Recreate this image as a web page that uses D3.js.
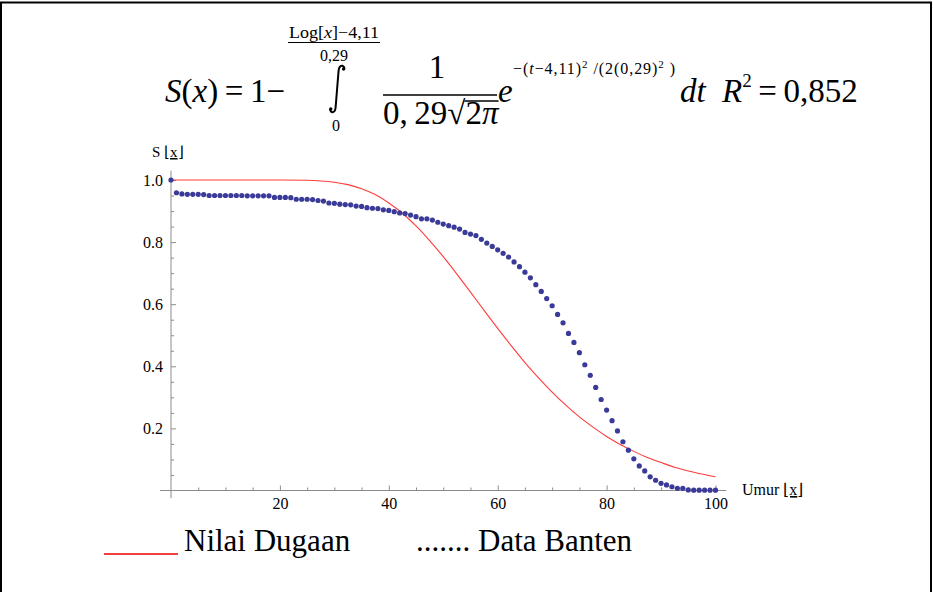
<!DOCTYPE html>
<html>
<head>
<meta charset="utf-8">
<script src="https://cdn.jsdelivr.net/npm/d3@7"></script>
<style>
  body { margin: 0; background: #fff; }
  svg { display: block; }
  text { font-family: "Liberation Serif", "Times New Roman", serif; fill: #000; }
</style>
</head>
<body>
<script>
const width = 933, height = 592;

// Data Banten: survival proportion by age
const dataAge = d3.range(0, 101);
const dataVal = [
  1.000, 0.959, 0.955, 0.954, 0.954, 0.954, 0.953, 0.950, 0.950, 0.950,
  0.950, 0.950, 0.950, 0.950, 0.949, 0.949, 0.949, 0.949, 0.949, 0.944,
  0.944, 0.944, 0.943, 0.938, 0.938, 0.938, 0.937, 0.934, 0.932, 0.926,
  0.925, 0.922, 0.921, 0.920, 0.916, 0.915, 0.911, 0.909, 0.908, 0.904,
  0.902, 0.898, 0.894, 0.892, 0.887, 0.882, 0.875, 0.875, 0.871, 0.864,
  0.858, 0.853, 0.848, 0.842, 0.831, 0.826, 0.821, 0.809, 0.797, 0.786,
  0.775, 0.764, 0.752, 0.736, 0.721, 0.703, 0.685, 0.663, 0.641, 0.618,
  0.595, 0.567, 0.540, 0.506, 0.477, 0.444, 0.405, 0.371, 0.332, 0.293,
  0.259, 0.225, 0.192, 0.157, 0.130, 0.102, 0.079, 0.063, 0.044, 0.033,
  0.023, 0.018, 0.012, 0.007, 0.007, 0.002, 0.001, 0.001, 0.001, 0.001,
  0.001
];

// Nilai Dugaan: fitted curve
const fitAge = [0, 5, 10, 15, 20, 25, 27.5, 30, 32.5, 35, 37.5, 40, 42.5, 45, 47.5, 50,
  52.5, 55, 57.5, 60, 62.5, 65, 67.5, 70, 72.5, 75, 77.5, 80, 82.5, 85, 87.5, 90,
  92.5, 95, 97.5, 100];
const fitVal = [1, 1, 1, 1, 1, 0.999, 0.997, 0.993, 0.985, 0.972, 0.953, 0.926, 0.893, 0.852,
  0.805, 0.753, 0.697, 0.639, 0.580, 0.522, 0.466, 0.412, 0.363, 0.317, 0.275, 0.237,
  0.204, 0.174, 0.148, 0.126, 0.106, 0.090, 0.075, 0.063, 0.053, 0.044];

const xMajor = [20, 40, 60, 80, 100];
const xMinor = [5, 10, 15, 25, 30, 35, 45, 50, 55, 65, 70, 75, 85, 90, 95];
const yMajor = [0.2, 0.4, 0.6, 0.8, 1.0];
const yMinor = [0.05, 0.1, 0.15, 0.25, 0.3, 0.35, 0.45, 0.5, 0.55, 0.65, 0.7, 0.75, 0.85, 0.9, 0.95];

const x = d3.scaleLinear().domain([0, 100]).range([171, 715.5]);
const y = d3.scaleLinear().domain([0, 1]).range([490.5, 180]);

const svg = d3.select("body").append("svg")
  .attr("width", width)
  .attr("height", height);

// frame
svg.append("rect")
  .attr("x", 1).attr("y", 2.5)
  .attr("width", 930).attr("height", 620)
  .attr("fill", "none")
  .attr("stroke", "#000")
  .attr("stroke-width", 2);

// ---------- formula ----------
const f = svg.append("g").attr("class", "formula");
const big = 33, small = 16;

const sx = f.append("text").attr("x", 165).attr("y", 102).style("font-size", big + "px");
sx.append("tspan").style("font-style", "italic").text("S");
sx.append("tspan").text("(");
sx.append("tspan").style("font-style", "italic").text("x");
sx.append("tspan").text(")\u2009=\u20091\u2212");

// upper limit of the integral
const up = f.append("text").attr("x", 334).attr("y", 38)
  .attr("text-anchor", "middle").style("font-size", small + "px")
  .attr("textLength", 90).attr("lengthAdjust", "spacingAndGlyphs");
up.append("tspan").text("Log[");
up.append("tspan").style("font-style", "italic").text("x");
up.append("tspan").text("]\u22124,11");
f.append("line").attr("x1", 288).attr("x2", 380).attr("y1", 42.5).attr("y2", 42.5)
  .attr("stroke", "#000").attr("stroke-width", 1);
f.append("text").attr("x", 334).attr("y", 61).attr("text-anchor", "middle")
  .style("font-size", small + "px").text("0,29");

// integral sign
f.append("path")
  .attr("d", "M344.5,69 C344,64.5 339.5,64.5 338.6,70.5 L335.6,107.5 C335,113.5 330.5,113.5 330,109")
  .attr("fill", "none").attr("stroke", "#000").attr("stroke-width", 2);
f.append("circle").attr("cx", 343.6).attr("cy", 69).attr("r", 1.7).attr("fill", "#000");
f.append("circle").attr("cx", 330.8).attr("cy", 109).attr("r", 1.7).attr("fill", "#000");
f.append("text").attr("x", 336).attr("y", 131).attr("text-anchor", "middle")
  .style("font-size", small + "px").text("0");

// 1 / (0,29 sqrt(2 pi))
f.append("text").attr("x", 437).attr("y", 78).attr("text-anchor", "middle")
  .style("font-size", big + "px").text("1");
f.append("line").attr("x1", 383).attr("x2", 497).attr("y1", 95).attr("y2", 95)
  .attr("stroke", "#000").attr("stroke-width", 1.3);
const d1 = f.append("text").attr("x", 383).attr("y", 124).style("font-size", big + "px").text("0,\u200929");
const w1 = d1.node().getComputedTextLength();
const rt = f.append("text").attr("x", 383 + w1).attr("y", 124).style("font-size", big + "px").text("\u221A");
const w2 = rt.node().getComputedTextLength();
const d2 = f.append("text").attr("x", 383 + w1 + w2).attr("y", 124).style("font-size", big + "px");
d2.append("tspan").text("2");
d2.append("tspan").style("font-style", "italic").text("\u03C0");
const w3 = d2.node().getComputedTextLength();
f.append("line").attr("x1", 383 + w1 + w2 - 1).attr("x2", 383 + w1 + w2 + w3)
  .attr("y1", 101).attr("y2", 101).attr("stroke", "#000").attr("stroke-width", 1.3);

// e^(...)
f.append("text").attr("x", 498).attr("y", 102).style("font-size", big + "px")
  .style("font-style", "italic").text("e");
const ex = f.append("text").attr("x", 513).attr("y", 74).style("font-size", small + "px")
  .attr("textLength", 162).attr("lengthAdjust", "spacing");
ex.append("tspan").text("\u2212(");
ex.append("tspan").style("font-style", "italic").text("t");
ex.append("tspan").text("\u22124,11)");
ex.append("tspan").attr("dy", -6).style("font-size", "11px").text("2");
ex.append("tspan").attr("dy", 6).text(" /(2(0,29)");
ex.append("tspan").attr("dy", -6).style("font-size", "11px").text("2");
ex.append("tspan").attr("dy", 6).text(" )");

f.append("text").attr("x", 680).attr("y", 102).style("font-size", big + "px")
  .style("font-style", "italic").text("dt");

const r2 = f.append("text").attr("x", 722).attr("y", 102).style("font-size", big + "px");
r2.append("tspan").style("font-style", "italic").text("R");
r2.append("tspan").attr("dy", -15).style("font-size", "19px").text("2");
r2.append("tspan").attr("dy", 15).text("\u2009=\u20090,852");

// ---------- axes ----------
const axisColor = "#8c8c8c";
const tickFont = "16px";

const gx = svg.append("g").attr("transform", `translate(0,${y(0)})`);
gx.call(d3.axisBottom(x).tickValues(xMinor).tickSize(-3).tickFormat(""));
gx.selectAll(".tick line").attr("stroke", axisColor);
const gxM = svg.append("g").attr("transform", `translate(0,${y(0)})`);
gxM.call(d3.axisBottom(x).tickValues(xMajor).tickSize(-5).tickPadding(7).tickFormat(d3.format("d")));
[gx, gxM].forEach(g => g.select(".domain").remove());
gxM.selectAll(".tick line").attr("stroke", axisColor);
gxM.selectAll(".tick text").style("font-family", "Liberation Serif, serif").style("font-size", tickFont).attr("fill", "#000");
svg.append("line")
  .attr("x1", x(-2)).attr("x2", x(102))
  .attr("y1", y(0)).attr("y2", y(0))
  .attr("stroke", axisColor).attr("stroke-width", 1);

const gy = svg.append("g").attr("transform", `translate(${x(0)},0)`);
gy.call(d3.axisLeft(y).tickValues(yMinor).tickSize(-3).tickFormat(""));
gy.selectAll(".tick line").attr("stroke", axisColor);
const gyM = svg.append("g").attr("transform", `translate(${x(0)},0)`);
gyM.call(d3.axisLeft(y).tickValues(yMajor).tickSize(-5).tickPadding(8).tickFormat(d3.format(".1f")));
[gy, gyM].forEach(g => g.select(".domain").remove());
gyM.selectAll(".tick line").attr("stroke", axisColor);
gyM.selectAll(".tick text").style("font-family", "Liberation Serif, serif").style("font-size", tickFont).attr("fill", "#000");
svg.append("line")
  .attr("x1", x(0)).attr("x2", x(0))
  .attr("y1", y(1.03)).attr("y2", y(-0.025))
  .attr("stroke", axisColor).attr("stroke-width", 1);

// axis labels
const yl = svg.append("text").attr("x", 152).attr("y", 157).style("font-size", "15px");
yl.append("tspan").text("S ");
yl.append("tspan").style("text-decoration", "underline").text("\u230Ax");
yl.append("tspan").text("\u230B");
const xl = svg.append("text").attr("x", 742).attr("y", 495).style("font-size", "16px");
xl.append("tspan").text("Umur ");
xl.append("tspan").style("text-decoration", "underline").text("\u230Ax");
xl.append("tspan").text("\u230B");

// ---------- series ----------
const fit = fitAge.map((a, i) => [a, fitVal[i]]);
svg.append("path")
  .datum(fit)
  .attr("fill", "none")
  .attr("stroke", "#ff3b3b")
  .attr("stroke-width", 1.1)
  .attr("d", d3.line().x(d => x(d[0])).y(d => y(d[1])).curve(d3.curveMonotoneX));

svg.append("g").selectAll("circle")
  .data(dataAge.map((a, i) => [a, dataVal[i]]))
  .enter()
  .append("circle")
  .attr("cx", d => x(d[0]))
  .attr("cy", d => y(d[1]))
  .attr("r", 2.6)
  .attr("fill", "#3a3a98");

// ---------- legend ----------
svg.append("line")
  .attr("x1", 104).attr("x2", 178).attr("y1", 554).attr("y2", 554)
  .attr("stroke", "#e00").attr("stroke-width", 1.4);
svg.append("text").attr("x", 184).attr("y", 551).style("font-size", "31px").text("Nilai Dugaan");
svg.append("text").attr("x", 416).attr("y", 551).style("font-size", "31px").text("....... Data Banten");
</script>
</body>
</html>
